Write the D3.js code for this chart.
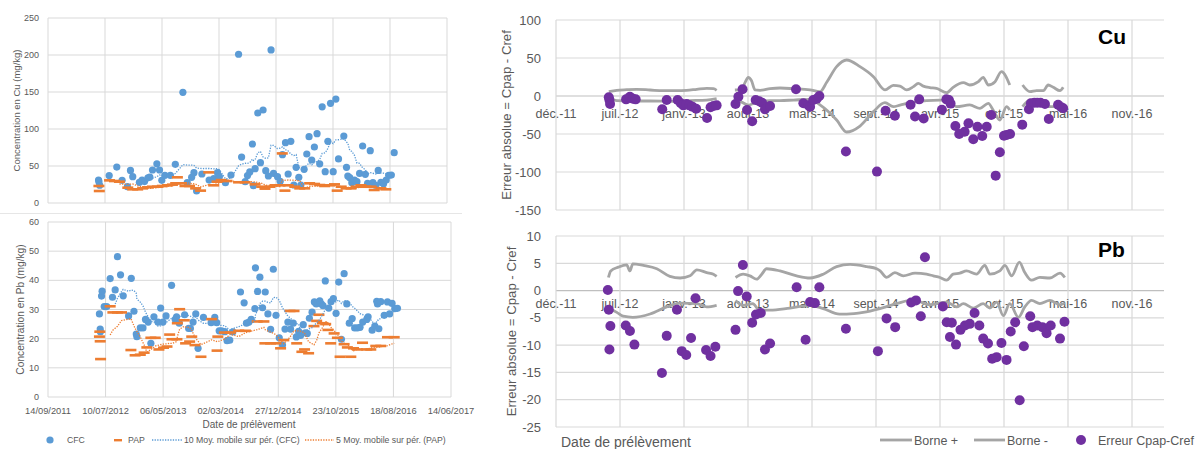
<!DOCTYPE html>
<html><head><meta charset="utf-8">
<script src="https://cdn.jsdelivr.net/npm/d3@7"></script>
<style>body{margin:0;background:#fff}svg{display:block}text{font-family:"Liberation Sans",Arial,sans-serif;fill:#595959}</style>
</head><body><svg id="c" width="1195" height="449"></svg>
<script>
// ---- Data (dates are Excel serial day numbers) ----
const cuCfcDays=[41066,41068,41072,41122,41162,41190,41218,41234,41246,41281,41295,41308,41326,41336,41350,41373,41387,41399,41415,41444,41470,41510,41533,41556,41568,41582,41610,41648,41672,41692,41702,41734,41763,41803,41819,41838,41850,41862,41876,41881,41890,41904,41918,41932,41946,41960,41974,41987,42008,42022,42034,42050,42064,42078,42094,42106,42120,42131,42148,42162,42174,42188,42202,42216,42230,42243,42259,42273,42287,42301,42315,42329,42357,42371,42378,42388,42399,42413,42426,42440,42456,42470,42482,42496,42510,42524,42538,42552,42566,42580,42593,42607,42622];
const cuCfcValues=[31,28.8,24,37,48.6,30.6,22,44,35.6,28,31,29,34,35,44.6,53,44.6,30.6,37.4,37.4,52.3,149.5,27.5,34.7,41,16.2,39.2,31,33,41,35.6,27.5,37.8,201,62,28.8,37,42,79.7,23.4,46.4,121.6,54.5,125.7,43.7,36.5,206.8,40,35.6,29.3,65.3,81.5,39.2,83.3,24.3,48.2,34.7,24.3,45.5,66.2,89.6,58.1,75.7,93.7,53,130,42.3,83.3,134.7,42.3,140.5,59.5,90.5,48.2,36.5,34.2,27.5,31,28.8,40,77,38.7,26.6,70.7,27.5,24,44,28,26,31,37.4,37.8,68];
const cuPapDays=[41068,41070,41124,41150,41176,41220,41246,41272,41298,41324,41350,41376,41402,41429,41455,41472,41481,41503,41521,41545,41577,41603,41646,41672,41690,41712,41742,41803,41838,41890,41925,41942,41968,41995,42021,42033,42047,42064,42099,42125,42151,42177,42203,42230,42256,42282,42308,42322,42343,42369,42395,42421,42447,42473,42500,42517,42552,42578];
const cuPapValues=[23,16.2,30.6,29.7,28.8,20.7,18.5,18.5,19.8,21.2,22,22,23,23.9,24.8,26.6,34.7,26.6,23,23,19.8,16.7,41.4,23.9,28.8,31,29.7,28,28,25.2,22,19.4,22,23.9,23.9,67,16.7,23.9,22,19.8,19.8,26.6,25.7,24.3,23,23.9,25.2,16.7,22,19.8,19.8,22,23.9,22,22,17.6,19.8,18.5];

const pbCfcDays=[41068,41072,41073,41079,41082,41093,41106,41124,41136,41150,41162,41178,41192,41220,41234,41248,41260,41263,41281,41295,41308,41322,41336,41352,41373,41387,41399,41415,41444,41463,41470,41484,41512,41533,41542,41556,41570,41582,41610,41650,41669,41679,41692,41704,41721,41733,41747,41763,41803,41822,41834,41847,41859,41878,41881,41892,41904,41918,41932,41946,41960,41974,41988,42005,42022,42035,42050,42064,42078,42094,42106,42116,42130,42141,42151,42162,42176,42188,42198,42216,42224,42233,42245,42263,42275,42287,42301,42315,42329,42343,42357,42370,42385,42398,42412,42426,42440,42461,42468,42489,42503,42513,42517,42524,42534,42552,42569,42580,42593,42607,42621];
const pbCfcValues=[28.5,23.3,22.4,34.6,36.3,31,31,40.6,34.2,36.7,48.1,41.9,34.7,27.8,40.7,29.4,21.6,20.7,23.7,23.7,26.6,25.7,18.4,27.5,25.7,30.5,25.7,27.8,38.3,26.6,27.5,25.3,28.2,23.5,23.5,25.7,28.5,16.7,27.3,25.5,27.3,25.5,22.7,22.7,22.4,19.3,19.5,22.3,36,32.3,25.3,25.7,26.6,30.3,44.3,36.2,41.1,30.6,36,28.5,23.2,43.8,28,20.3,17.8,23.3,25.7,23.3,25.3,20.6,22.5,21.1,24.8,22,21.8,27,29.1,32.6,31.9,33,31.9,31.3,39.8,30.5,32.7,33.7,28.7,39.4,19.8,42.3,31.9,25.3,26.9,23.7,23.7,23.9,25.7,26.6,27.5,22.9,24.3,32.8,31.9,23.4,32.7,28,32.6,28.5,32.1,30.3,30.4];
const pbPapDays=[41068,41070,41072,41074,41124,41138,41162,41183,41232,41254,41281,41301,41315,41336,41359,41378,41402,41420,41434,41446,41472,41474,41486,41510,41517,41538,41549,41566,41597,41653,41681,41685,41719,41751,41794,41829,41890,41925,41930,41960,41988,42012,42029,42061,42082,42096,42123,42137,42158,42186,42200,42212,42230,42247,42259,42273,42291,42308,42322,42343,42360,42378,42392,42412,42439,42461,42482,42508,42534,42569,42604];
const pbPapValues=[20.7,22.4,19.1,13,31.1,29,29,29,16.1,14.3,14.5,15.2,17,20.3,20.3,16.3,16.9,17.3,21.4,19.8,19.8,25.3,30.1,26.3,18.4,19,20.7,17.8,13.8,26.7,15.9,20.7,22.1,22.1,22.7,22.7,25.9,25.9,18.4,18.4,18.4,16.7,19.5,29.5,29.5,18.4,15.5,16.3,15,24.3,26.1,28.2,25.3,25,23,18.4,21.8,20.3,13.8,18.1,17,13.8,16.7,16.3,18.6,16.3,16.3,17.5,17.5,20.5,20.5];

const cuErrDays=[41065,41067,41069,41119,41131,41140,41149,41232,41246,41280,41290,41298,41308,41317,41326,41338,41372,41383,41392,41402,41461,41470,41483,41497,41513,41524,41535,41544,41553,41569,41650,41673,41689,41694,41704,41715,41723,41806,41903,41930,41959,42008,42022,42035,42049,42106,42120,42128,42133,42148,42160,42177,42189,42204,42217,42232,42246,42260,42274,42287,42300,42308,42319,42357,42378,42384,42395,42404,42414,42428,42440,42469,42479,42485];
const cuErrValues=[-1.8,-5.3,-10.5,-4.4,-0.9,-3.5,-4.4,-17.5,-5.3,-5.3,-9.6,-12.3,-10.5,-12.3,-14,-16.7,-29,-14.9,-13.2,-12.3,-10.5,-0.9,8.8,-18.4,-33.3,-5.3,-7,-8.8,-17.5,-13.2,8.8,-9.6,-12.3,-14,-5.3,-3.5,0,-73,-99.5,-19.3,-25.9,-11.4,-27,-4.4,-29.6,-18,-4.4,-5.3,-10,-39.5,-50,-47,-36,-57,-40.4,-52.6,-40.4,-25,-104.8,-74,-52.2,-51.3,-50,-37.7,-17.5,-9.6,-8.8,-8.8,-8.8,-10.5,-30.3,-11.4,-14.9,-16.2];
const cuUpperDays=[41065,41090,41121,41152,41194,41235,41277,41308,41340,41371,41392,41402,41430,41459,41480,41491,41501,41511,41522,41538,41569,41600,41642,41694,41725,41746,41777,41808,41850,41892,41928,41954,41975,41996,42017,42032,42048,42068,42089,42121,42141,42173,42193,42220,42235,42251,42272,42292,42318,42338,42358,42381,42402,42423,42438,42454,42475,42485];
const cuUpperValues=[5.7,7.5,8.3,8.8,7.9,7,7,7.5,8.8,10,9.6,7.5,null,7.9,8.3,18,24.5,20,8,7.5,9.6,10.5,9.6,8,5.7,18,38.6,47.4,38.6,25.4,8,14,13,8,12.3,16.7,13,11,10,4.4,11.4,17.5,14.5,18.9,24.6,14.5,18.9,32,14.5,null,14.5,5.7,7,7,14.5,11.4,7,11.4];
const cuLowerDays=[41065,41090,41131,41194,41267,41319,41371,41402,41430,41459,41480,41501,41522,41538,41569,41600,41642,41694,41725,41777,41808,41850,41892,41928,41954,41975,42006,42058,42100,42121,42152,42193,42225,42251,42266,42287,42308,42318,42338,42358,42381,42412,42443,42475,42485];
const cuLowerValues=[-3,-6.1,-6.6,-6.6,-7,-6.1,-5.3,-3.5,null,-6,-8,-12,-9,-7,-6,-6,-5.3,-4.4,-11.8,-31.6,-47.4,-39.5,-20.6,-8.8,-14,-12,-8.8,-6,-5.3,-5.3,-14,-11.8,-16.2,-9.6,-18.4,-31.6,-14,-18.4,null,-14,-5.3,-7.5,-14,-13.2,-10.5];

const pbErrDays=[41062,41065,41067,41070,41118,41131,41145,41231,41246,41278,41293,41307,41322,41336,41369,41383,41398,41461,41469,41484,41496,41513,41525,41540,41553,41569,41652,41680,41694,41709,41723,41806,41906,41933,41960,42010,42025,42040,42053,42109,42121,42131,42137,42150,42164,42178,42193,42208,42223,42235,42250,42263,42277,42292,42308,42321,42335,42349,42362,42382,42389,42404,42420,42433,42446,42475,42489];
const pbErrValues=[0.1,-3.5,-10.8,-6.5,-6.4,-7.4,-9.9,-15.1,-8.3,-3.5,-11.1,-11.8,-8.7,-1.4,-10.9,-12,-10.3,-7.2,-0.1,4.7,-1.1,-5.9,-4.4,-4.1,-10.8,-9.7,0.6,-9,-2.1,-2.3,0.6,-7,-11.1,-5.1,-6.7,-2.2,-1.8,-4.7,6.1,-2.9,-5.8,-8.5,-5.9,-9.9,-7.2,-6.4,-6.1,-4.1,-6.4,-8.8,-9.7,-12.5,-12.2,-9.6,-12.7,-7.5,-5.8,-20.1,-10.2,-4.7,-6.7,-6.4,-6.7,-7.8,-6.4,-8.8,-5.7];
const pbUpperDays=[41064,41071,41095,41121,41131,41140,41173,41215,41256,41288,41319,41340,41371,41392,41402,41430,41461,41485,41506,41527,41543,41558,41600,41652,41694,41735,41777,41819,41871,41902,41913,41933,41959,41985,42022,42058,42079,42100,42121,42141,42162,42183,42214,42240,42256,42287,42303,42324,42348,42365,42386,42412,42443,42475,42490];
const pbUpperValues=[2.4,3.6,4.3,4.7,3.6,4.9,4.6,4,2.6,2.3,2.7,3.8,3.3,3,2.6,null,2.4,3,2.7,2.1,3,4,3.6,2.7,2.3,3,4.4,4.8,4.4,4,3.6,2.4,3.3,2.7,3.2,3,2.7,2.4,1.9,3,3.2,3.6,3,4.6,3,3.6,4.6,2.7,5.2,3.3,1.9,2.4,2.3,3.2,2.4];
const pbLowerDays=[41064,41090,41110,41140,41194,41246,41288,41340,41371,41402,41430,41461,41485,41515,41536,41569,41631,41694,41735,41786,41808,41860,41912,41964,42016,42068,42121,42152,42173,42204,42235,42256,42277,42298,42318,42345,42365,42386,42412,42443,42475,42490];
const pbLowerValues=[-3.2,-4,-4.7,-4.9,-4.3,-3,-2.3,-2.4,-3,-2.7,null,-1.8,-2.7,-2.4,-3.6,-3.6,-3.2,-2.7,-3.3,-4.3,-4.3,-4,-3.3,-2.4,-1.7,-2.6,-2.1,-3,-2.4,-3.2,-2.4,-3.2,-2.1,-4.6,-2.4,-4.9,-3,-1.8,-2.4,-1.8,-2.6,-2.3];

const leftTickDays=[40800,41100,41400,41700,42000,42300,42600,42900];
const rightTickDays=[40900,41100,41300,41500,41700,41900,42100,42300,42500,42700];
const rightTickLabels=["déc.-11","juil.-12","janv.-13","août-13","mars-14","sept.-14","avr.-15","oct.-15","mai-16","nov.-16"];
const cuLeftTicks=[0,50,100,150,200,250], pbLeftTicks=[0,10,20,30,40,50,60];
const cuRightTicks=[100,50,0,-50,-100,-150], pbRightTicks=[10,5,0,-5,-10,-15,-20,-25];

// ---- helpers ----
const BLUE="#5B9BD5", ORANGE="#ED7D31", PURPLE="#7030A0", GRAYL="#A5A5A5", GRID="#D9D9D9";
const toDate=s=>new Date(Date.UTC(1899,11,30)+s*864e5);
const zip=(d,v)=>d.map((x,i)=>({d:toDate(x),v:v[i]}));
function movingAvg(days,vals,n){const o=[];for(let i=n-1;i<vals.length;i++){let s=0;for(let j=i-n+1;j<=i;j++)s+=vals[j];o.push({d:toDate(days[i]),v:s/n});}return o;}
const svg=d3.select("#c");
const fmt=d3.utcFormat("%d/%m/%Y");

function leftPanel(o){
  const x=d3.scaleUtc().domain([toDate(40800),toDate(42900)]).range(o.xr);
  const y=d3.scaleLinear().domain([0,o.ymax]).range(o.yr);
  const g=svg.append("g");
  g.selectAll(".hg").data(o.yt).enter().append("line").attr("x1",o.xr[0]).attr("x2",o.xr[1]).attr("y1",d=>y(d)).attr("y2",d=>y(d)).attr("stroke",GRID);
  g.selectAll(".vg").data(leftTickDays).enter().append("line").attr("y1",o.yr[0]).attr("y2",o.yr[1]).attr("x1",d=>x(toDate(d))).attr("x2",d=>x(toDate(d))).attr("stroke",GRID);
  g.selectAll(".yl").data(o.yt).enter().append("text").attr("x",39).attr("y",d=>y(d)).attr("dy","0.35em").attr("text-anchor","end").style("font-size","9px").text(d=>d);
  if(o.xlabels){
    g.selectAll(".xl").data(leftTickDays).enter().append("text").attr("x",d=>x(toDate(d))).attr("y",o.yr[0]+17).attr("text-anchor","middle").style("font-size","9.3px").text(d=>fmt(toDate(d)));
  }
  g.append("text").attr("transform",`translate(${o.tx},${(o.yr[0]+o.yr[1])/2}) rotate(-90)`).attr("text-anchor","middle").attr("dy","0.35em").style("font-size",o.tfs).text(o.title);
  const cfc=zip(o.cfcD,o.cfcV), pap=zip(o.papD,o.papV);
  g.selectAll(".cf").data(cfc).enter().append("circle").attr("cx",d=>x(d.d)).attr("cy",d=>y(d.v)).attr("r",3.6).attr("fill",BLUE);
  g.selectAll(".pp").data(pap).enter().append("rect").attr("x",d=>x(d.d)-5.5).attr("y",d=>y(d.v)-1.3).attr("width",11).attr("height",2.6).attr("fill",ORANGE);
  const ln=d3.line().x(d=>x(d.d)).y(d=>y(d.v));
  g.append("path").attr("d",ln(movingAvg(o.cfcD,o.cfcV,10))).attr("fill","none").attr("stroke",BLUE).attr("stroke-width",1.3).attr("stroke-dasharray","1.3,1.3");
  g.append("path").attr("d",ln(movingAvg(o.papD,o.papV,5))).attr("fill","none").attr("stroke",ORANGE).attr("stroke-width",1.3).attr("stroke-dasharray","1.3,1.3");
}

leftPanel({xr:[48,447],yr:[203,18],ymax:250,yt:cuLeftTicks,xlabels:false,tx:17,tfs:"9.5px",title:"Concentration en Cu (mg/kg)",cfcD:cuCfcDays,cfcV:cuCfcValues,papD:cuPapDays,papV:cuPapValues});
leftPanel({xr:[48,451],yr:[397,222],ymax:60,yt:pbLeftTicks,xlabels:true,tx:20,tfs:"10.2px",title:"Concentration en Pb (mg/kg)",cfcD:pbCfcDays,cfcV:pbCfcValues,papD:pbPapDays,papV:pbPapValues});
svg.append("line").attr("x1",0).attr("x2",462).attr("y1",213.5).attr("y2",213.5).attr("stroke","#E6E6E6");
svg.append("text").attr("x",249).attr("y",428).attr("text-anchor","middle").style("font-size","10px").text("Date de prélèvement");
// left legend
const lg=svg.append("g");
lg.append("circle").attr("cx",50).attr("cy",440).attr("r",3.6).attr("fill",BLUE);
lg.append("text").attr("x",67).attr("y",443).style("font-size","8.7px").text("CFC");
lg.append("rect").attr("x",114).attr("y",439).attr("width",8).attr("height",2.4).attr("fill",ORANGE);
lg.append("text").attr("x",128).attr("y",443).style("font-size","8.7px").text("PAP");
lg.append("line").attr("x1",152).attr("x2",182).attr("y1",440).attr("y2",440).attr("stroke",BLUE).attr("stroke-width",1.3).attr("stroke-dasharray","1.3,1.3");
lg.append("text").attr("x",184).attr("y",443).style("font-size","8.7px").text("10 Moy. mobile sur pér. (CFC)");
lg.append("line").attr("x1",305).attr("x2",334).attr("y1",440).attr("y2",440).attr("stroke",ORANGE).attr("stroke-width",1.3).attr("stroke-dasharray","1.3,1.3");
lg.append("text").attr("x",336).attr("y",443).style("font-size","8.7px").text("5 Moy. mobile sur pér. (PAP)");

function rightPanel(o){
  const x=d3.scaleUtc().domain([toDate(40900),toDate(42800)]).range([556,1164]);
  const y=d3.scaleLinear().domain(o.yd).range(o.yr);
  const g=svg.append("g");
  g.selectAll(".hg").data(o.yt).enter().append("line").attr("x1",556).attr("x2",1164).attr("y1",d=>y(d)).attr("y2",d=>y(d)).attr("stroke",d=>d===0?"#BFBFBF":GRID).attr("stroke-width",1.2);
  g.selectAll(".vg").data(rightTickDays).enter().append("line").attr("y1",o.yr[0]).attr("y2",o.yr[1]).attr("x1",d=>x(toDate(d))).attr("x2",d=>x(toDate(d))).attr("stroke",GRID).attr("stroke-width",1.2);
  g.selectAll(".yl").data(o.yt).enter().append("text").attr("x",541).attr("y",d=>y(d)).attr("dy","0.35em").attr("text-anchor","end").style("font-size","13px").text(d=>d);
  g.selectAll(".xl").data(rightTickDays).enter().append("text").attr("x",d=>x(toDate(d))).attr("y",y(0)+o.xlo).attr("text-anchor","middle").style("font-size","12.5px").text((d,i)=>rightTickLabels[i]);
  g.append("text").attr("transform",`translate(${o.tx},${(o.yr[0]+o.yr[1])/2}) rotate(-90)`).attr("text-anchor","middle").attr("dy","0.35em").style("font-size","13.2px").text("Erreur absolue = Cpap - Cref");
  const ln=d3.line().defined(d=>d.v!==null).x(d=>x(d.d)).y(d=>y(d.v)).curve(d3.curveMonotoneX);
  g.append("path").attr("d",ln(zip(o.upD,o.upV))).attr("fill","none").attr("stroke",GRAYL).attr("stroke-width",2.8);
  g.append("path").attr("d",ln(zip(o.loD,o.loV))).attr("fill","none").attr("stroke",GRAYL).attr("stroke-width",2.8);
  g.selectAll(".ed").data(zip(o.eD,o.eV)).enter().append("circle").attr("cx",d=>x(d.d)).attr("cy",d=>y(d.v)).attr("r",5).attr("fill",PURPLE);
  g.append("text").attr("x",1098).attr("y",o.lby).style("font-size","21px").style("font-weight","bold").style("fill","#000").text(o.label);
}
rightPanel({yd:[-150,100],yr:[210,20],yt:cuRightTicks,tx:506,xlo:22,upD:cuUpperDays,upV:cuUpperValues,loD:cuLowerDays,loV:cuLowerValues,eD:cuErrDays,eV:cuErrValues,label:"Cu",lby:44});
rightPanel({yd:[-25,10],yr:[427,236],yt:pbRightTicks,tx:511,xlo:17.5,upD:pbUpperDays,upV:pbUpperValues,loD:pbLowerDays,loV:pbLowerValues,eD:pbErrDays,eV:pbErrValues,label:"Pb",lby:257});
svg.append("text").attr("x",561).attr("y",447).style("font-size","14px").text("Date de prélèvement");
const rl=svg.append("g");
rl.append("line").attr("x1",880).attr("x2",912).attr("y1",440).attr("y2",440).attr("stroke",GRAYL).attr("stroke-width",2.8);
rl.append("text").attr("x",914).attr("y",444.5).style("font-size","12.5px").text("Borne +");
rl.append("line").attr("x1",974).attr("x2",1005).attr("y1",440).attr("y2",440).attr("stroke",GRAYL).attr("stroke-width",2.8);
rl.append("text").attr("x",1007).attr("y",444.5).style("font-size","12.5px").text("Borne -");
rl.append("circle").attr("cx",1081).attr("cy",440).attr("r",5).attr("fill",PURPLE);
rl.append("text").attr("x",1098).attr("y",444.5).style("font-size","12.5px").text("Erreur Cpap-Cref");
</script></body></html>
